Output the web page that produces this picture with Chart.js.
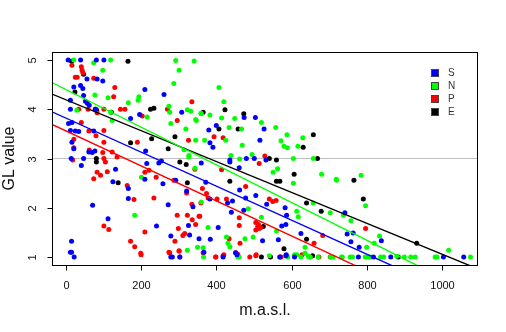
<!DOCTYPE html>
<html lang="en">
<head>
    <meta charset="UTF-8">
    <title>GL value by altitude</title>
    <script src="https://cdn.jsdelivr.net/npm/chart.js"></script>
    <style>
        body {
            margin: 0;
            padding: 0;
            background-color: #fff;
        }
        canvas {
            display: block;
        }
    </style>
</head>
<body>
    <canvas id="glChart" width="506" height="332"></canvas>
    <script>
        // altitude (m.a.s.l.) and GL value for each exposure
        const sPoints = [
            [6,5],[39,5],[81,5],[101,5],[56,4.61],[83,4.61],[98,4.57],[39,4.48],[45,4.42],[21,4.45],[210,4.40],[47,4.28],[261,4.30],
            [12,4.18],[52,4.16],[57,4.12],[62,4.08],[12,4.0],[79,4.0],[308,3.94],[196,3.89],[172,3.81],[7,3.71],[16,3.73],
            [12,3.57],[25,3.56],[34,3.55],[74,3.56],[16,3.33],[61,3.13],[70,3.12],[77,3.15],[21,3.2],[212,3.15],[14,3.0],[47,3.0],
            [41,2.86],[132,2.78],[215,2.90],[247,2.91],[254,2.95],[210,2.58],[292,2.56],[125,2.53],[258,2.49],[166,2.39],
            [321,2.34],[166,2.19],[71,2.05],[272,2.06],[338,2.02],[112,1.78],[241,1.63],[326,1.64],[279,1.43],[329,1.45],
            [15,1.32],[15,1.10],[12,1.1],[22,1],[279,1],[283,1],[303,1],
            [474,3.83],[504,3.83],[400,3.67],[527,3.60],[380,3.58],[516,3.37],[383,3.32],[391,3.23],[480,3.0],[501,3.0],[436,2.97],[532,2.97],
            [360,2.91],[436,2.93],[461,2.81],[372,2.52],[462,2.36],[383,2.18],[430,2.10],[443,2.14],[505,2.25],[478,2.20],
            [534,2.07],[583,2.0],[473,1.95],[440,1.91],[587,1.85],[405,1.60],[574,1.63],[585,1.66],[625,1.48],[354,1.37],
            [384,1.36],[523,1.33],[565,1.35],[367,1.10],[455,1.05],[585,1.03],
            [742,1.90],[748,1.47],[764,1.49],[758,1.31],[839,1.33],[780,1.20],
            [418,1],[451,1.09],[569,1],[586,1.05],[608,1],[778,1],[818,1],[864,1],[1004,1],[1058,1]
        ];
        const nPoints = [
            [21,5],[119,5],[292,4.99],[341,4.98],[74,4.94],[98,4.79],[301,4.79],[287,4.52],[77,4.29],[112,4.23],[194,4.25],
            [192,4.18],[166,4.13],[29,3.98],[119,3.94],[274,4.06],[276,3.94],[323,3.99],[332,3.96],[359,3.92],[216,3.84],
            [123,3.77],[279,3.71],[345,3.79],[319,3.60],[345,3.37],[327,3.06],[314,3.18],
            [201,2.62],[183,1.85],[350,1.20],[323,1.14],[327,3.03],[343,2.80],
            [407,4.44],[420,4.15],[360,3.91],[383,3.88],[347,3.77],[414,3.82],[449,3.81],[520,3.73],[434,3.63],[467,3.60],
            [558,3.63],[588,3.48],[425,3.37],[630,3.42],[369,3.37],[572,3.36],[469,3.27],[580,3.25],[589,3.22],[617,3.25],
            [439,3.06],[495,3.08],[605,3.0],[658,3.0],[462,2.99],
            [551,2.72],[563,2.79],[680,2.68],[719,2.58],[605,2.50],[360,2.12],[658,2.10],[703,1.90],[614,1.93],[485,1.98],
            [618,1.82],[520,1.81],[378,1.60],[560,1.53],[427,1.41],[476,1.37],[498,1.41],[365,1.19],[436,1.21],[431,1.28],
            [636,1.20],[541,1.03],[614,1.05],[625,1],[636,1.08],[645,1.02],[650,1],[671,1],[711,1],[366,1],[461,1],
            [720,2.56],[785,2.66],[797,2.04],[738,1.85],[758,1.74],[834,1.43],[800,1.20],[820,1.28],[1018,1.14],
            [733,1],[756,1],[762,1],[796,1],[805,1],[837,1],[845,1],[880,1.02],[900,1],[917,1],[929,1],[982,1],[987,1],
            [1076,1],[457,1],[590,1],[608,1.05],[704,1],[735,1],[811,1]
        ];
        const pPoints = [
            [16,4.89],[41,4.86],[43,4.79],[45,4.74],[25,4.65],[30,4.65],[74,4.63],[130,4.44],[127,4.25],[335,4.15],[34,4.0],
            [59,4.0],[83,3.93],[101,4.0],[145,4.0],[157,4.0],[270,4.0],[203,3.86],[296,3.77],[41,3.73],[61,3.56],[80,3.46],
            [101,3.57],[21,3.39],[190,3.33],[326,3.37],[101,3.33],[98,3.12],[123,3.13],[101,3.0],[136,3.03],[21,3.22],[62,3.17],
            [18,2.97],[105,2.93],[343,2.78],[83,2.72],[92,2.66],[110,2.73],[74,2.59],[210,2.72],[221,2.76],[240,2.62],
            [287,2.56],[163,2.45],[321,2.30],[181,2.17],[234,2.20],[359,2.10],[335,2.07],[296,1.85],[323,1.85],[354,1.83],
            [336,1.76],[345,1.66],[101,1.63],[114,1.56],[299,1.58],[210,1.51],[311,1.44],[316,1.48],[172,1.32],[290,1.32],
            [183,1.21],[274,1.10],[301,1.12],[199,1.08],[303,1],[200,1.05],[276,1.09],[301,1.13],
            [394,3.44],[418,3.42],[529,3.05],
            [414,2.77],[514,2.90],[363,2.39],[478,2.43],[374,2.29],[378,2.20],[402,2.18],[427,2.18],[541,2.18],[559,2.15],
            [550,2.13],[356,1.83],[461,1.80],[505,1.70],[510,1.62],[514,1.58],[518,1.60],[505,1.55],[512,1.66],[461,1.64],
            [683,1.44],[434,1.37],[660,1.28],[463,1.28],[452,1.09],[418,1.03],[399,1],[505,1.03],[489,1],[569,1],[649,1],
            [673,1],[703,1],[365,1.09],[398,1],[420,1.05],[457,1.06],[506,1.05],[572,1],[628,1.05],
            [797,1.58]
        ];
        const ePoints = [
            [15,4.97],[165,4.97],[47,4.71],[24,4.35],[78,4.0],[82,3.98],[121,3.94],[225,4.0],[234,4.02],[172,3.32],
            [228,3.40],[290,3.44],[272,3.20],[81,3.0],[81,2.93],[303,2.93],[320,2.88],[139,2.51],[323,2.51],
            [423,3.99],[365,3.94],[473,3.91],[407,3.60],[458,3.60],[658,3.48],[631,3.23],[541,3.0],[560,2.97],[669,3.0],
            [607,2.68],[560,2.54],[569,2.54],[436,2.54],[640,2.10],[679,1.93],[525,1.62],[640,1.36],[580,1.17],
            [520,1],[544,1],[656,1.03],
            [766,2.56],[791,2.18],[933,1.28],[884,1]
        ];

        // series order: S, N, P, E
        const seriesNames = ['S', 'N', 'P', 'E'];
        const seriesColors = ['#0000ff', '#00ff00', '#ff0000', '#000000'];
        const seriesPoints = [sPoints, nPoints, pPoints, ePoints];
        // fitted lines GL = a + b * altitude
        const lineIntercepts = [3.82, 4.40, 3.56, 4.19];
        const lineSlopes = [-0.00345, -0.00382, -0.00355, -0.00313];
        const refLevel = 3;

        const xTicks = [0, 200, 400, 600, 800, 1000];
        const yTicks = [1, 2, 3, 4, 5];
        const xMin = -37, xMax = 1096;
        const yMin = 0.84, yMax = 5.16;

        const datasets = [];
        seriesPoints.forEach((pts, i) => {
            datasets.push({
                type: 'scatter',
                label: seriesNames[i],
                data: pts.map(p => ({ x: p[0], y: p[1] })),
                pointRadius: 2.5,
                pointBorderWidth: 0,
                pointBackgroundColor: seriesColors[i],
                order: 1
            });
        });
        lineIntercepts.forEach((a, i) => {
            datasets.push({
                type: 'line',
                label: seriesNames[i] + ' fit',
                data: [xMin, xMax].map(x => ({ x: x, y: a + lineSlopes[i] * x })),
                borderColor: seriesColors[i],
                borderWidth: 1.4,
                pointRadius: 0,
                order: 0
            });
        });
        datasets.push({
            type: 'line',
            label: 'ref',
            data: [{ x: xMin, y: refLevel }, { x: xMax, y: refLevel }],
            borderColor: '#bebebe',
            borderWidth: 1,
            pointRadius: 0,
            order: 2
        });

        // box, axes, labels and legend in base-graphics style
        const framePlugin = {
            id: 'frame',
            afterDraw(chart) {
                const ctx = chart.ctx;
                const a = chart.chartArea;
                const xs = chart.scales.x;
                const ys = chart.scales.y;
                ctx.save();
                ctx.strokeStyle = '#000';
                ctx.lineWidth = 1;
                ctx.strokeRect(Math.round(a.left) + 0.5, Math.round(a.top) + 0.5,
                    Math.round(a.right - a.left) - 1, Math.round(a.bottom - a.top));

                ctx.fillStyle = '#111';
                ctx.font = '11px "Liberation Sans", Arial, sans-serif';
                ctx.textAlign = 'center';
                ctx.textBaseline = 'middle';
                const bottom = Math.round(a.bottom) + 0.5;
                xTicks.forEach(v => {
                    const px = Math.round(xs.getPixelForValue(v)) + 0.5;
                    ctx.beginPath();
                    ctx.moveTo(px, bottom);
                    ctx.lineTo(px, bottom + 5);
                    ctx.stroke();
                    ctx.fillText(String(v), px, 285.5);
                });
                const left = Math.round(a.left) + 0.5;
                yTicks.forEach(v => {
                    const py = Math.round(ys.getPixelForValue(v)) + 0.5;
                    ctx.beginPath();
                    ctx.moveTo(left - 5, py);
                    ctx.lineTo(left, py);
                    ctx.stroke();
                    ctx.save();
                    ctx.translate(33, py);
                    ctx.rotate(-Math.PI / 2);
                    ctx.fillText(String(v), 0, 0);
                    ctx.restore();
                });

                ctx.font = '16px "Liberation Sans", Arial, sans-serif';
                ctx.textBaseline = 'alphabetic';
                ctx.fillText('m.a.s.l.', (a.left + a.right) / 2, 315);
                ctx.save();
                ctx.translate(13.5, (a.top + a.bottom) / 2);
                ctx.rotate(-Math.PI / 2);
                ctx.fillText('GL value', 0, 0);
                ctx.restore();

                ctx.font = '10px "Liberation Sans", Arial, sans-serif';
                ctx.textAlign = 'left';
                ctx.textBaseline = 'middle';
                seriesNames.forEach((name, i) => {
                    const cy = 73 + i * 13;
                    ctx.fillStyle = seriesColors[i];
                    ctx.fillRect(431, cy - 4, 8, 8);
                    ctx.strokeStyle = '#444';
                    ctx.strokeRect(431.5, cy - 3.5, 7, 7);
                    ctx.fillStyle = '#333';
                    ctx.fillText(name, 448, cy + 0.5);
                });
                ctx.restore();
            }
        };

        new Chart(document.getElementById('glChart').getContext('2d'), {
            data: { datasets: datasets },
            options: {
                responsive: false,
                animation: false,
                layout: { padding: { left: 0, top: 52, right: 28, bottom: 0 } },
                plugins: {
                    legend: { display: false },
                    tooltip: { enabled: false }
                },
                scales: {
                    x: {
                        type: 'linear',
                        min: xMin,
                        max: xMax,
                        grid: { display: false },
                        border: { display: false },
                        ticks: { display: false },
                        afterFit: s => { s.height = 67; }
                    },
                    y: {
                        type: 'linear',
                        min: yMin,
                        max: yMax,
                        grid: { display: false },
                        border: { display: false },
                        ticks: { display: false },
                        afterFit: s => { s.width = 52; }
                    }
                }
            },
            plugins: [framePlugin]
        });
    </script>
</body>
</html>
